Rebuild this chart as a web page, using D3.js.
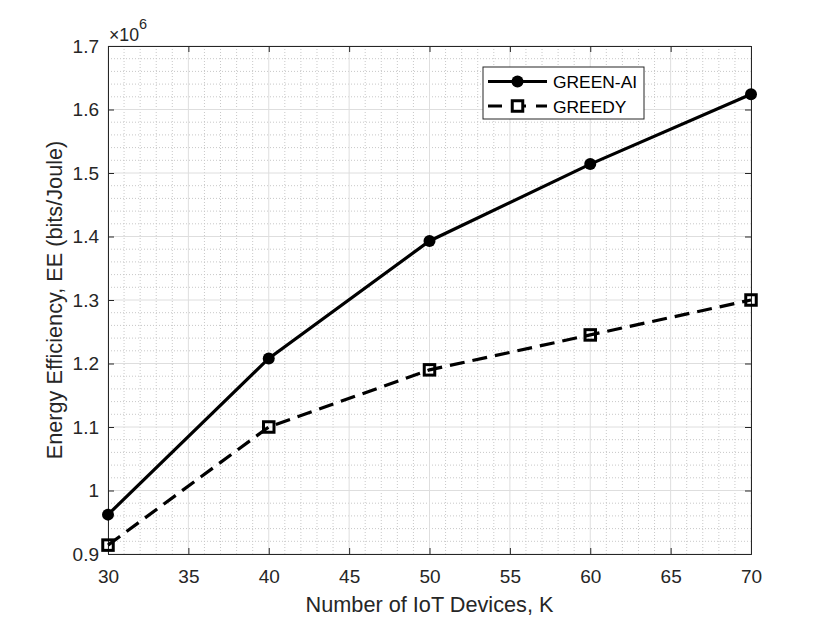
<!DOCTYPE html>
<html>
<head>
<meta charset="utf-8">
<script src="https://cdn.jsdelivr.net/npm/d3@7"></script>
<style>
  body { margin: 0; background: #fff; }
  text { font-family: "Liberation Sans", Arial, sans-serif; }
</style>
</head>
<body>
<div id="chart"></div>
<script>
// data
const devices = [30, 40, 50, 60, 70];
const greenAI = [0.962e6, 1.208e6, 1.393e6, 1.514e6, 1.624e6];
const greedy = [0.914e6, 1.100e6, 1.190e6, 1.245e6, 1.300e6];
const xTicks = [30, 35, 40, 45, 50, 55, 60, 65, 70];
const yTicks = [0.9, 1, 1.1, 1.2, 1.3, 1.4, 1.5, 1.6, 1.7];

const width = 830, height = 623;
const margin = { top: 46, right: 79, bottom: 69, left: 108 };
const w = width - margin.left - margin.right;
const h = height - margin.top - margin.bottom;

const svg = d3.select("#chart").append("svg")
    .attr("width", width)
    .attr("height", height);

const g = svg.append("g")
    .attr("transform", `translate(${margin.left},${margin.top})`);

const x = d3.scaleLinear().domain([30, 70]).range([0, w]);
const y = d3.scaleLinear().domain([0.9, 1.7]).range([h, 0]);

// minor grid (dotted)
const xMinor = d3.range(30, 70.001, 1).filter(d => d % 5 !== 0);
const yMinor = d3.range(0.9, 1.7001, 0.02).filter(d => Math.abs(Math.round(d * 10) - d * 10) > 1e-6);

g.selectAll(".xminor").data(xMinor).enter().append("line")
    .attr("x1", d => x(d)).attr("x2", d => x(d))
    .attr("y1", 0).attr("y2", h)
    .attr("stroke", "#c8c8c8").attr("stroke-width", 1)
    .attr("stroke-dasharray", "1,2");

g.selectAll(".yminor").data(yMinor).enter().append("line")
    .attr("x1", 0).attr("x2", w)
    .attr("y1", d => y(d)).attr("y2", d => y(d))
    .attr("stroke", "#c8c8c8").attr("stroke-width", 1)
    .attr("stroke-dasharray", "1,2");

// major grid
g.selectAll(".xmajor").data(xTicks).enter().append("line")
    .attr("x1", d => x(d)).attr("x2", d => x(d))
    .attr("y1", 0).attr("y2", h)
    .attr("stroke", "#dedede").attr("stroke-width", 1);

g.selectAll(".ymajor").data(yTicks).enter().append("line")
    .attr("x1", 0).attr("x2", w)
    .attr("y1", d => y(d)).attr("y2", d => y(d))
    .attr("stroke", "#dedede").attr("stroke-width", 1);

// axes (ticks inward)
const xAxis = g.append("g")
    .attr("transform", `translate(0,${h})`)
    .call(d3.axisBottom(x).tickValues(xTicks).tickSize(-6).tickPadding(16).tickFormat(d3.format("d")));
const xTop = g.append("g")
    .call(d3.axisTop(x).tickValues(xTicks).tickSize(-6).tickFormat(""));
const yAxis = g.append("g")
    .call(d3.axisLeft(y).tickValues(yTicks).tickSize(-6).tickPadding(9).tickFormat(d => d3.format("")(+d.toFixed(1))));
const yRight = g.append("g")
    .attr("transform", `translate(${w},0)`)
    .call(d3.axisRight(y).tickValues(yTicks).tickSize(-6).tickFormat(""));

[xAxis, xTop, yAxis, yRight].forEach(a => {
    a.select(".domain").attr("stroke", "#262626").attr("stroke-width", 1);
    a.selectAll(".tick line").attr("stroke", "#262626");
    a.selectAll("text").attr("fill", "#262626").style("font-size", "19px")
        .style("font-family", "'Liberation Sans', Arial, sans-serif");
});

// series
const line = d3.line()
    .x((d, i) => x(devices[i]))
    .y(d => y(d / 1e6));

g.append("path")
    .datum(greedy)
    .attr("fill", "none")
    .attr("stroke", "#000")
    .attr("stroke-width", 3.2)
    .attr("stroke-dasharray", "15,8")
    .attr("d", line);

g.append("path")
    .datum(greenAI)
    .attr("fill", "none")
    .attr("stroke", "#000")
    .attr("stroke-width", 3.2)
    .attr("d", line);

g.selectAll(".dot").data(greenAI).enter().append("circle")
    .attr("cx", (d, i) => x(devices[i]))
    .attr("cy", d => y(d / 1e6))
    .attr("r", 6)
    .attr("fill", "#000");

g.selectAll(".sq").data(greedy).enter().append("rect")
    .attr("x", (d, i) => x(devices[i]) - 5.25)
    .attr("y", d => y(d / 1e6) - 5.25)
    .attr("width", 10.5).attr("height", 10.5)
    .attr("fill", "none")
    .attr("stroke", "#000")
    .attr("stroke-width", 3);

// x10^6 exponent label
const expo = svg.append("text")
    .attr("x", margin.left + 1)
    .attr("y", 41)
    .attr("fill", "#262626")
    .style("font-size", "17.7px");
expo.append("tspan").text("\u00d710");
expo.append("tspan").attr("dy", -12.5).style("font-size", "14.5px").text("6");

// axis labels
svg.append("text")
    .attr("x", margin.left + w / 2)
    .attr("y", 612)
    .attr("text-anchor", "middle")
    .attr("fill", "#262626")
    .style("font-size", "21.7px")
    .text("Number of IoT Devices, K");

svg.append("text")
    .attr("transform", `translate(62,${margin.top + h / 2}) rotate(-90)`)
    .attr("text-anchor", "middle")
    .attr("fill", "#262626")
    .style("font-size", "21.7px")
    .text("Energy Efficiency, EE (bits/Joule)");

// legend
const legend = svg.append("g").attr("transform", "translate(483,67)");
legend.append("rect")
    .attr("width", 161).attr("height", 52)
    .attr("fill", "#fff")
    .attr("stroke", "#262626").attr("stroke-width", 1);

const legendItems = [
    { name: "GREEN-AI", dash: null, marker: "circle" },
    { name: "GREEDY", dash: "14,10", marker: "square" }
];

legendItems.forEach((item, i) => {
    const yy = 14.5 + i * 24.5;
    legend.append("line")
        .attr("x1", 5).attr("x2", 64)
        .attr("y1", yy).attr("y2", yy)
        .attr("stroke", "#000").attr("stroke-width", 3.2)
        .attr("stroke-dasharray", item.dash);
    if (item.marker === "circle") {
        legend.append("circle").attr("cx", 34.5).attr("cy", yy).attr("r", 6).attr("fill", "#000");
    } else {
        legend.append("rect").attr("x", 29.25).attr("y", yy - 5.25).attr("width", 10.5).attr("height", 10.5)
            .attr("fill", "#fff").attr("stroke", "#000").attr("stroke-width", 3);
    }
    legend.append("text")
        .attr("x", 70).attr("y", yy + 6.5)
        .attr("fill", "#000")
        .style("font-size", "17.4px")
        .text(item.name);
});
</script>
</body>
</html>
